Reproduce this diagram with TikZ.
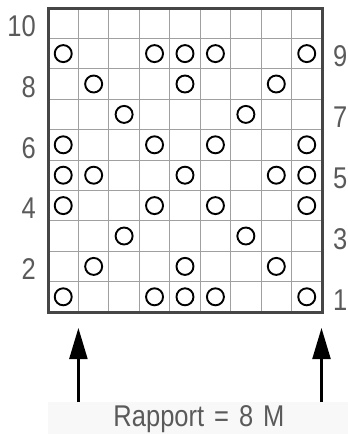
\documentclass[tikz,border=0pt]{standalone}
\usepackage{fontspec}
\setmainfont{Liberation Sans}[FakeStretch=0.85]
\usetikzlibrary{arrows.meta, positioning}
\definecolor{labelgray}{RGB}{90, 90, 90}
\definecolor{gridgray}{RGB}{160, 160, 160}
\definecolor{bordergray}{RGB}{70, 70, 70}
\definecolor{bandgray}{RGB}{248, 248, 248}

\begin{document}
\begin{tikzpicture}[
    x=1pt, y=-1pt,
    gridline/.style={draw=gridgray, line width=1pt},
    border/.style={draw=bordergray, line width=3pt},
    stitch/.style={circle, draw=black, line width=1.9pt, minimum size=17pt, inner sep=0pt},
    rowlabel/.style={font=\fontsize{30}{30}\selectfont, text=labelgray, inner sep=0pt},
    rapportarrow/.style={draw=black, line width=2.2pt, -{Triangle[length=31pt, width=18pt]}}
]
\useasboundingbox (0,0) rectangle (348,434);
% light band under the repeat text
\fill[bandgray] (48,402) rectangle (348,434);
% grid lines
\foreach \i in {1,...,8}
    \draw[gridline] ({48+\i*30.44},8) -- ({48+\i*30.44},312);
\foreach \j in {1,...,9}
    \draw[gridline] (48,{8+\j*30.4}) -- (322,{8+\j*30.4});
\draw[border] (48,8) rectangle (322,312);

% stitches: row/columns
\foreach \r/\cols in {1/{1,4,5,6,9}, 2/{2,5,8}, 3/{3,7}, 4/{1,4,6,9}, 5/{1,2,5,8,9},
                      6/{1,4,6,9}, 7/{3,7}, 8/{2,5,8}, 9/{1,4,5,6,9}}
    \foreach \c in \cols
        \node[stitch] (s\r-\c) at ({48+(\c-0.5)*30.44},{312-(\r-0.5)*30.4}) {};

% row numbers
\foreach \r in {2,4,...,10}
    \node[rowlabel, anchor=east] (left\r) at (36,{315-(\r-0.5)*30.4}) {\r};
\foreach \r in {1,3,...,9}
    \node[rowlabel, anchor=west] (right\r) at (333,{315-(\r-0.5)*30.4}) {\r};

% repeat
\coordinate (lbottom) at (78.4,402);
\coordinate (ltop) at (78.4,328);
\coordinate (rbottom) at (321.5,402);
\coordinate (rtop) at (321.5,328);
\draw[rapportarrow] (lbottom) -- (ltop);
\draw[rapportarrow] (rbottom) -- (rtop);

\node[rowlabel, anchor=base] (rapport) at (199,426.5) {\spaceskip=10pt Rapport = 8 M};
\end{tikzpicture}
\end{document}
